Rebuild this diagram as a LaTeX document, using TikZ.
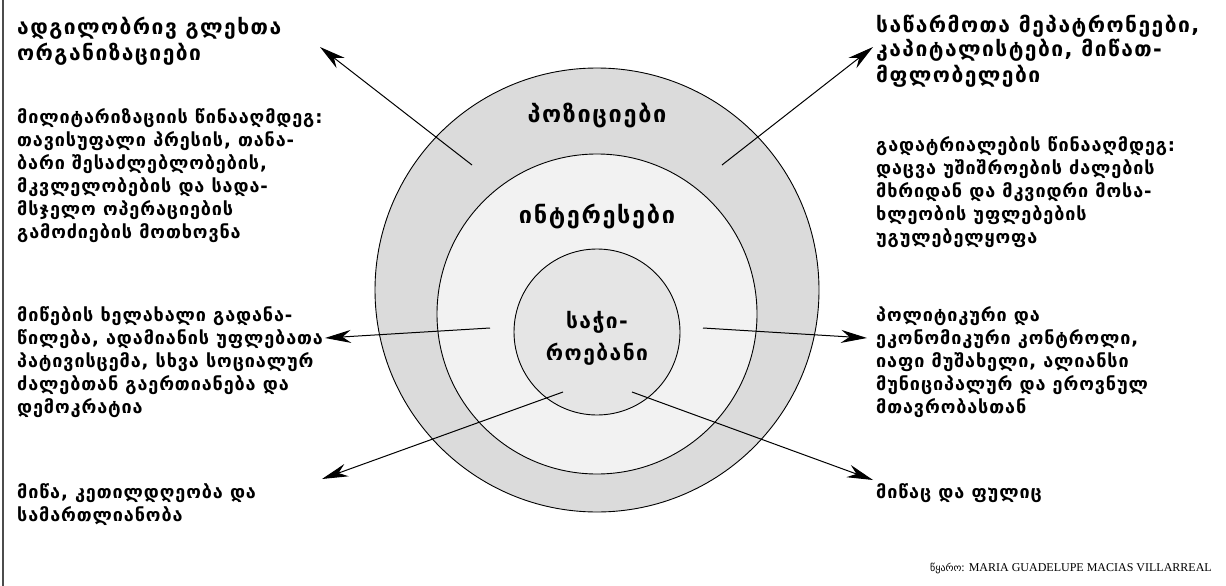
\documentclass[tikz,border=0pt]{standalone}
\usepackage{fontspec}
\setmainfont{DejaVu Sans}
\newfontfamily\bodyfont[LetterSpace=5]{DejaVu Sans}
\newfontfamily\headfont[LetterSpace=7]{DejaVu Sans}
\newfontfamily\srcfont{Liberation Serif}
\usetikzlibrary{arrows.meta}

\begin{document}
\begin{tikzpicture}[x=1pt,y=-1pt,
  ring/.style={circle,draw=black,line width=0.9pt,inner sep=0pt},
  % multi-line nodes are placed by the baseline of their last line
  head/.style={anchor=base west,inner sep=0pt,align=left,font=\headfont\bfseries\fontsize{21}{25}\selectfont},
  body/.style={anchor=base west,inner sep=0pt,align=left,font=\bodyfont\bfseries\fontsize{18}{23}\selectfont},
  lbl/.style={anchor=base,inner sep=0pt,align=center,font=\headfont\bfseries\fontsize{23.5}{32}\selectfont},
  pointer/.style={line width=1pt,-{Stealth[length=26pt,width=13pt]}}
]
\useasboundingbox (0,0) rectangle (1226,586);
\draw[line width=1.5pt,black!70] (3,0) -- (3,586);

% three nested circles
\node[ring,fill=black!14,minimum size=444pt] (outer) at (597,290) {};
\node[ring,fill=black!5,minimum size=320pt] (middle) at (597,314) {};
\node[ring,fill=black!10,minimum size=166pt] (inner) at (597,332) {};

\node[lbl] (pos) at (597,122) {პოზიციები};
\node[lbl] (int) at (597,223) {ინტერესები};
\node[lbl,font=\headfont\bfseries\fontsize{21}{32}\selectfont] (need) at (597,360) {საჭი-\\როებანი};

% left column
\node[head] (lhead) at (17,60) {ადგილობრივ გლეხთა\\ორგანიზაციები};
\node[body] (lpos) at (17,238) {მილიტარიზაციის წინააღმდეგ:\\თავისუფალი პრესის, თანა-\\ბარი შესაძლებლობების,\\მკვლელობების და სადა-\\მსჯელო ოპერაციების\\გამოძიების მოთხოვნა};
\node[body] (lint) at (17,413) {მიწების ხელახალი გადანა-\\წილება, ადამიანის უფლებათა\\პატივისცემა, სხვა სოციალურ\\ძალებთან გაერთიანება და\\დემოკრატია};
\node[body] (lneed) at (17,521) {მიწა, კეთილდღეობა და\\სამართლიანობა};

% right column
\node[head] (rhead) at (876,82) {საწარმოთა მეპატრონეები,\\კაპიტალისტები, მიწათ-\\მფლობელები};
\node[body] (rpos) at (876,243) {გადატრიალების წინააღმდეგ:\\დაცვა უშიშროების ძალების\\მხრიდან და მკვიდრი მოსა-\\ხლეობის უფლებების\\უგულებელყოფა};
\node[body] (rint) at (876,413) {პოლიტიკური და\\ეკონომიკური კონტროლი,\\იაფი მუშახელი, ალიანსი\\მუნიციპალურ და ეროვნულ\\მთავრობასთან};
\node[body] (rneed) at (876,498) {მიწაც და ფულიც};

% source line
\node[anchor=base east,inner sep=0pt,font=\fontsize{12}{14}\selectfont] (src) at (1212,571)
  {{\fontsize{10}{12}\selectfont წყარო}\srcfont: MARIA GUADELUPE MACIAS VILLARREAL};

% arrow ends
\coordinate (a1) at (472,165); \coordinate (t1) at (320,47);
\coordinate (a2) at (722,165); \coordinate (t2) at (873,47);
\coordinate (a3) at (490,328); \coordinate (t3) at (325,338);
\coordinate (a4) at (703,328); \coordinate (t4) at (867,338);
\coordinate (a5) at (563,392); \coordinate (t5) at (322,479);
\coordinate (a6) at (632,392); \coordinate (t6) at (873,480);

\draw[pointer] (a1) -- (t1);
\draw[pointer] (a2) -- (t2);
\draw[pointer] (a3) -- (t3);
\draw[pointer] (a4) -- (t4);
\draw[pointer] (a5) -- (t5);
\draw[pointer] (a6) -- (t6);
\end{tikzpicture}
\end{document}
